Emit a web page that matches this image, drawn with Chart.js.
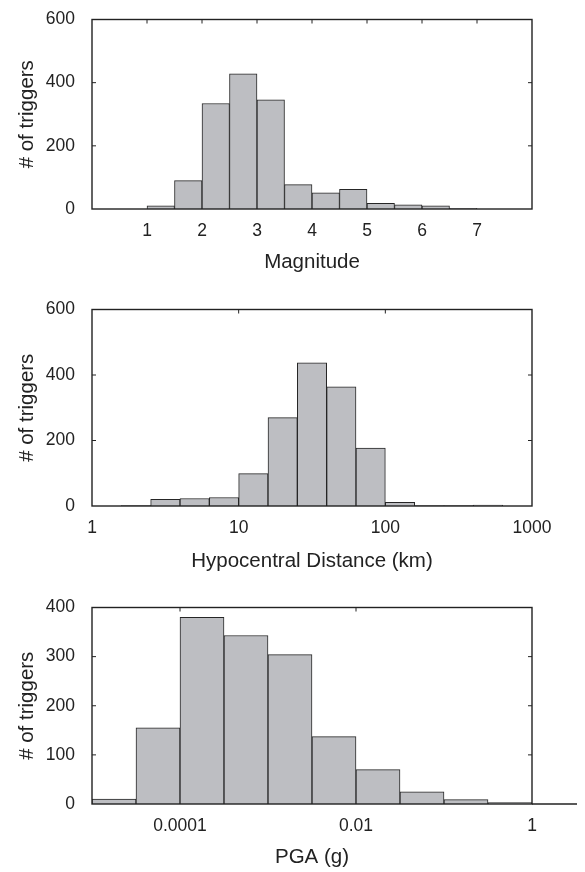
<!DOCTYPE html>
<html>
<head>
<meta charset="utf-8">
<script src="https://cdn.jsdelivr.net/npm/chart.js@4.4.1/dist/chart.umd.min.js"></script>
<style>
  body { margin: 0; background: #fff; }
  canvas { position: absolute; left: 0; }
</style>
</head>
<body>
<canvas id="mag" width="585" height="290" style="top:0px"></canvas>
<canvas id="dist" width="585" height="298" style="top:290px"></canvas>
<canvas id="pga" width="585" height="284" style="top:588px"></canvas>
<script>
// magnitude histogram, bins of 0.5
const magCenters = [1.25, 1.75, 2.25, 2.75, 3.25, 3.75, 4.25, 4.75, 5.25, 5.75, 6.25, 6.75];
const magCounts = [10, 90, 334, 428, 346, 77, 51, 62, 18, 13, 10, 2];
const magTicks = [1, 2, 3, 4, 5, 6, 7];

// hypocentral distance, 5 bins per decade
const distCenters = [1.2589, 1.9953, 3.1623, 5.0119, 7.9433, 12.589, 19.953, 31.623, 50.119, 79.433, 125.89, 199.53, 316.23, 501.19, 794.33];
const distCounts = [0, 1, 20, 23, 26, 99, 270, 437, 364, 177, 11, 1, 1, 3, 0];
const distTicks = [1, 10, 100, 1000];
const distTickLabels = ['1', '10', '100', '1000'];

// PGA, 2 bins per decade
const pgaCenters = [1.7783e-5, 5.6234e-5, 1.7783e-4, 5.6234e-4, 1.7783e-3, 5.6234e-3, 0.017783, 0.056234, 0.17783, 0.56234];
const pgaCounts = [10, 155, 380, 343, 304, 137, 70, 25, 9, 3];
const pgaTicks = [0.0001, 0.01, 1];
const pgaTickLabels = ['0.0001', '0.01', '1'];

const yTitle = '# of triggers';
const FONT = '"Liberation Sans", Arial, Helvetica, sans-serif';
const INK = '#222';
const TICK_SIZE = 17.5;
const TITLE_SIZE = 20.5;

Chart.defaults.font.family = FONT;
Chart.defaults.color = INK;

const framePlugin = {
  id: 'frame',
  afterDatasetsDraw(chart, args, opts) {
    const ctx = chart.ctx;
    const a = chart.chartArea;
    const x = chart.scales.x, y = chart.scales.y;
    ctx.save();
    ctx.strokeStyle = INK;
    ctx.lineWidth = 1.4;
    ctx.strokeRect(a.left, a.top, a.right - a.left, a.bottom - a.top);
    if (opts.extendTo) {
      ctx.beginPath();
      ctx.moveTo(a.right, a.bottom);
      ctx.lineTo(opts.extendTo, a.bottom);
      ctx.stroke();
    }
    ctx.lineWidth = 1;
    ctx.beginPath();
    x.ticks.forEach(t => {
      const px = x.getPixelForValue(t.value);
      if (px <= a.left + 1 || px >= a.right - 1) return;
      ctx.moveTo(px, a.top);
      ctx.lineTo(px, a.top + 4);
    });
    y.ticks.forEach(t => {
      const py = y.getPixelForValue(t.value);
      if (py <= a.top + 1 || py >= a.bottom - 1) return;
      ctx.moveTo(a.left, py);
      ctx.lineTo(a.left + 4, py);
      ctx.moveTo(a.right, py);
      ctx.lineTo(a.right - 4, py);
    });
    ctx.stroke();
    ctx.restore();
  }
};

function makeHist(id, centers, counts, xScale, yMax, yStep, xTitle, pad, xHeight, titlePadBottom, extendTo) {
  new Chart(document.getElementById(id), {
    type: 'bar',
    data: {
      datasets: [{
        data: centers.map((c, i) => ({ x: c, y: counts[i] })),
        backgroundColor: '#bdbec2',
        borderColor: '#262626',
        borderWidth: 1,
        barPercentage: 1,
        categoryPercentage: 1
      }]
    },
    options: {
      responsive: false,
      animation: false,
      devicePixelRatio: 1,
      layout: { padding: { top: pad, right: 53, bottom: 0, left: 0 } },
      plugins: { legend: { display: false }, tooltip: { enabled: false }, frame: { extendTo: extendTo } },
      scales: {
        x: Object.assign({
          offset: false,
          grid: { display: false },
          border: { display: false },
          title: { display: true, text: xTitle, font: { size: TITLE_SIZE }, padding: { top: 0, bottom: titlePadBottom } },
          afterFit: s => { s.height = xHeight; }
        }, xScale),
        y: {
          min: 0,
          max: yMax,
          grid: { display: false },
          border: { display: false },
          ticks: { stepSize: yStep, padding: 9, font: { size: TICK_SIZE } },
          title: { display: true, text: yTitle, font: { size: TITLE_SIZE }, padding: { top: 14.7, bottom: 0 } },
          afterFit: s => { s.width = 92; }
        }
      }
    },
    plugins: [framePlugin]
  });
}

makeHist('mag', magCenters, magCounts, {
  type: 'linear', min: 0, max: 8,
  afterBuildTicks: s => { s.ticks = magTicks.map(v => ({ value: v })); },
  ticks: { padding: 4, maxRotation: 0, autoSkip: false, font: { size: TICK_SIZE } }
}, 600, 200, 'Magnitude', 11, 81, 15, null);

makeHist('dist', distCenters, distCounts, {
  type: 'logarithmic', min: 1, max: 1000,
  afterBuildTicks: s => { s.ticks = distTicks.map(v => ({ value: v })); },
  ticks: { padding: 4, maxRotation: 0, autoSkip: false, font: { size: TICK_SIZE },
    callback: v => distTickLabels[distTicks.indexOf(v)] }
}, 600, 200, 'Hypocentral Distance (km)', 17, 82, 14, null);

makeHist('pga', pgaCenters, pgaCounts, {
  type: 'logarithmic', min: 0.00001, max: 1,
  afterBuildTicks: s => { s.ticks = pgaTicks.map(v => ({ value: v })); },
  ticks: { padding: 4, maxRotation: 0, autoSkip: false, font: { size: TICK_SIZE },
    callback: v => pgaTickLabels[pgaTicks.indexOf(v)] }
}, 400, 100, 'PGA (g)', 17, 68, 2, 577);
</script>
</body>
</html>
